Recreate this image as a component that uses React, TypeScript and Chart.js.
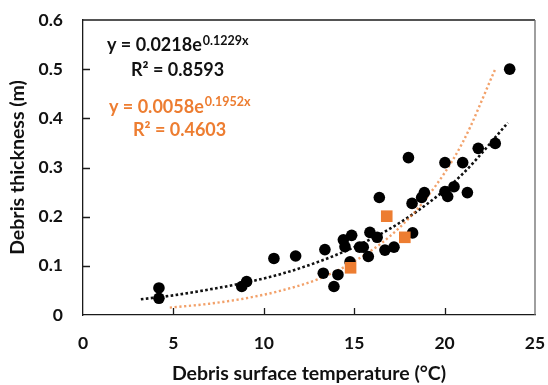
import React, { useEffect, useRef } from 'react';
import { Chart, registerables } from 'chart.js';

Chart.register(...registerables);

// Measured points (black circles)
const tempBlack = [4.2, 4.2, 8.78, 9.05, 10.56, 11.76, 13.29, 13.38, 13.88, 14.1, 14.4, 14.49, 14.77, 14.86, 15.3, 15.5, 15.78, 15.87, 16.27, 16.39, 16.7, 17.2, 18.0, 18.2, 18.23, 18.73, 18.88, 20.02, 20.02, 20.17, 20.52, 21.0, 21.26, 21.86, 22.8, 23.6];
const thickBlack = [0.055, 0.034, 0.058, 0.068, 0.115, 0.12, 0.085, 0.133, 0.058, 0.082, 0.153, 0.139, 0.108, 0.162, 0.138, 0.138, 0.119, 0.168, 0.158, 0.239, 0.132, 0.138, 0.32, 0.227, 0.167, 0.239, 0.249, 0.31, 0.251, 0.241, 0.261, 0.31, 0.249, 0.339, 0.349, 0.5];

// Orange squares
const tempOrange = [14.8, 16.8, 17.8];
const thickOrange = [0.096, 0.201, 0.158];

// Trendline values
const trendBlackX = [3.2, 5, 7, 9, 11, 13, 15, 17, 19, 21, 23.5];
const trendBlackY = [0.032, 0.040, 0.052, 0.066, 0.084, 0.108, 0.138, 0.176, 0.225, 0.287, 0.391];
const trendOrangeX = [4.8, 7, 9, 11, 13, 15, 17, 19, 21, 22.8];
const trendOrangeY = [0.015, 0.023, 0.034, 0.050, 0.073, 0.109, 0.161, 0.238, 0.351, 0.5];

const xTickValues = [0, 5, 10, 15, 20, 25];
const yTickLabels = ['0', '0.1', '0.2', '0.3', '0.4', '0.5', '0.6'];

const eqBlack = { main: 'y = 0.0218e', sup: '0.1229x', r2: 'R² = 0.8593' };
const eqOrange = { main: 'y = 0.0058e', sup: '0.1952x', r2: 'R² = 0.4603' };

const ORANGE = '#ED7D31';
const FONT = 'Lato, "Open Sans", sans-serif';

const pts = (xs: number[], ys: number[]) => xs.map((x, i) => ({ x, y: ys[i] }));

const framePlugin = {
  id: 'frame',
  afterDatasetsDraw(chart: any) {
    const { ctx, chartArea: a, scales } = chart;
    ctx.save();
    ctx.strokeStyle = '#1a1a1a';
    ctx.lineWidth = 1.3;
    ctx.beginPath();
    ctx.moveTo(a.left, a.top);
    ctx.lineTo(a.right, a.top);
    ctx.stroke();
    ctx.strokeStyle = '#6b6b6b';
    ctx.beginPath();
    ctx.moveTo(a.right, a.top);
    ctx.lineTo(a.right, a.bottom);
    ctx.stroke();
    ctx.strokeStyle = '#1a1a1a';
    ctx.beginPath();
    for (let i = 1; i < yTickLabels.length - 1; i++) {
      const y = Math.round(scales.y.getPixelForValue(i / 10)) + 0.5;
      ctx.moveTo(a.left, y);
      ctx.lineTo(a.left + 7, y);
    }
    for (let i = 1; i < xTickValues.length - 1; i++) {
      const x = Math.round(scales.x.getPixelForValue(xTickValues[i])) + 0.5;
      ctx.moveTo(x, a.bottom);
      ctx.lineTo(x, a.bottom - 7);
    }
    ctx.stroke();

    const drawEq = (eq: any, color: string, x: number, y: number, rx: number, ry: number) => {
      ctx.fillStyle = color;
      ctx.textBaseline = 'alphabetic';
      ctx.textAlign = 'left';
      ctx.font = `bold 18px ${FONT}`;
      ctx.fillText(eq.main, x, y);
      const w = ctx.measureText(eq.main).width;
      ctx.font = `bold 12.5px ${FONT}`;
      ctx.fillText(eq.sup, x + w + 1, y - 6.5);
      ctx.font = `bold 18px ${FONT}`;
      ctx.fillText(eq.r2, rx, ry);
    };
    drawEq(eqBlack, '#111', 107, 51, 131, 76);
    drawEq(eqOrange, ORANGE, 109, 112.5, 133, 136);
    ctx.restore();
  },
};

export default function App() {
  const ref = useRef<HTMLCanvasElement>(null);
  useEffect(() => {
    if (!ref.current) return;
    const chart = new Chart(ref.current, {
      type: 'scatter',
      data: {
        datasets: [
          {
            label: 'Orange squares',
            data: pts(tempOrange, thickOrange),
            backgroundColor: ORANGE,
            borderColor: ORANGE,
            pointStyle: 'rect',
            pointRadius: 8.2,
            borderWidth: 0,
            order: 1,
          },
          {
            label: 'Black circles',
            data: pts(tempBlack, thickBlack),
            backgroundColor: '#000',
            borderColor: '#000',
            pointRadius: 5.8,
            borderWidth: 0,
            order: 2,
          },
          {
            label: 'Black trend',
            data: pts(trendBlackX, trendBlackY),
            showLine: true,
            pointRadius: 0,
            borderColor: '#111',
            borderWidth: 2.6,
            borderDash: [2.6, 2.4],
            cubicInterpolationMode: 'monotone',
            order: 4,
          } as any,
          {
            label: 'Orange trend',
            data: pts(trendOrangeX, trendOrangeY),
            showLine: true,
            pointRadius: 0,
            borderColor: 'rgba(237,125,49,0.72)',
            borderWidth: 2.4,
            borderDash: [2.2, 2.6],
            cubicInterpolationMode: 'monotone',
            order: 3,
          } as any,
        ],
      },
      options: {
        animation: false,
        responsive: true,
        maintainAspectRatio: false,
        layout: { padding: { top: 20, right: 13, left: 0, bottom: 0 } },
        plugins: { legend: { display: false }, tooltip: { enabled: false } },
        scales: {
          x: {
            type: 'linear',
            min: 0,
            max: 25,
            afterFit: (s: any) => { s.height = 70; s.paddingLeft = 0; s.paddingRight = 0; },
            afterBuildTicks: (s: any) => { s.ticks = xTickValues.map((v) => ({ value: v })); },
            grid: { display: false, drawTicks: false },
            border: { display: true, color: '#1a1a1a', width: 1.3 },
            ticks: { padding: 18, color: '#111', font: { family: FONT, size: 17.5, weight: 'bold' } },
            title: {
              display: true,
              text: 'Debris surface temperature (°C)',
              color: '#111',
              font: { family: FONT, size: 19.5, weight: 'bold' },
              padding: { top: 0, bottom: 0 },
            },
          },
          y: {
            type: 'linear',
            min: 0,
            max: 0.6,
            afterFit: (s: any) => { s.width = 83; s.paddingTop = 0; s.paddingBottom = 0; },
            afterBuildTicks: (s: any) => { s.ticks = yTickLabels.map((_, i) => ({ value: i / 10 })); },
            grid: { display: false, drawTicks: false },
            border: { display: true, color: '#1a1a1a', width: 1.3 },
            ticks: {
              padding: 20,
              color: '#111',
              font: { family: FONT, size: 17.5, weight: 'bold' },
              callback: (_v: any, i: number) => yTickLabels[i],
            },
            title: {
              display: true,
              text: 'Debris thickness (m)',
              color: '#111',
              font: { family: FONT, size: 19.5, weight: 'bold' },
              padding: { top: 6, bottom: 6 },
            },
          },
        },
      } as any,
      plugins: [framePlugin],
    });
    return () => chart.destroy();
  }, []);
  return (
    <div style={{ position: 'fixed', left: 0, top: 0, width: 548, height: 385, background: '#fff' }}>
      <canvas ref={ref} />
    </div>
  );
}
